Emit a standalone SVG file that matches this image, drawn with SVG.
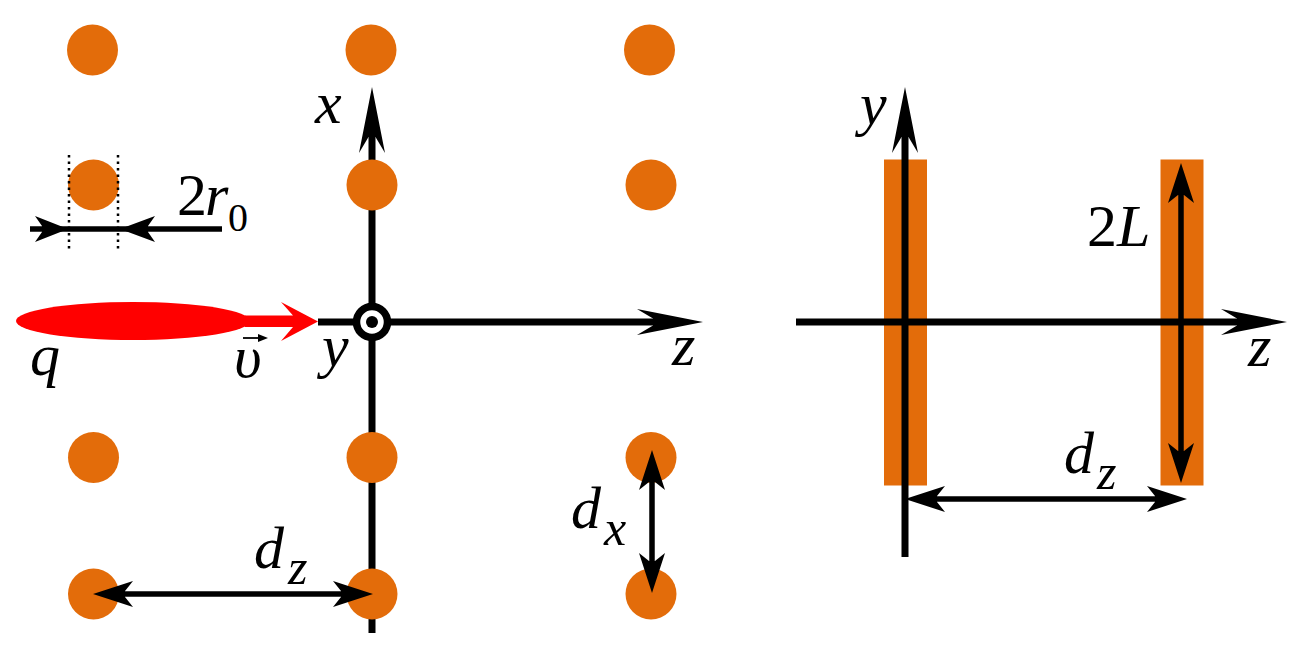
<svg xmlns="http://www.w3.org/2000/svg" width="1309" height="669" viewBox="0 0 1309 669">
<style>
.dot{fill:#E36C0A}
.bar{fill:#E36C0A}
.ax{stroke:#000;stroke-width:7;fill:none}
.dim{stroke:#000;stroke-width:5.500;fill:none}
.guide{stroke:#000;stroke-width:2.500;stroke-dasharray:2.500 4;fill:none}
text{font-family:"Liberation Serif","Times New Roman",serif;font-style:italic;font-size:60px;fill:#000}
.n{font-style:normal}
.sub{font-size:50px}
.sub0{font-size:40px;font-style:normal}
</style>
<defs>
<marker id="long" markerUnits="userSpaceOnUse" markerWidth="70" markerHeight="30" viewBox="0 -15 70 30" refX="30" refY="0" orient="auto-start-reverse"><path d="M0-13L66 0L0 13L16 3.500V-3.500Z"/></marker>
<marker id="mid" markerUnits="userSpaceOnUse" markerWidth="44" markerHeight="30" viewBox="0 -15 44 30" refX="20" refY="0" orient="auto-start-reverse"><path d="M0-13L40 0L0 13L8 3V-3Z"/></marker>
</defs>
<g id="dots">
<g id="dot-1-1"><circle class="dot" cx="92.500" cy="50" r="25.500"/></g>
<g id="dot-1-2"><circle class="dot" cx="371" cy="50" r="25.500"/></g>
<g id="dot-1-3"><circle class="dot" cx="649.500" cy="50" r="25.500"/></g>
<g id="dot-2-1"><circle class="dot" cx="93.500" cy="185" r="25.500"/></g>
<g id="dot-2-3"><circle class="dot" cx="651" cy="185" r="25.500"/></g>
<g id="dot-3-1"><circle class="dot" cx="93.500" cy="457.500" r="25.500"/></g>
<g id="dot-3-3"><circle class="dot" cx="651" cy="457.500" r="25.500"/></g>
<g id="dot-4-1"><circle class="dot" cx="93.500" cy="594" r="25.500"/></g>
<g id="dot-4-3"><circle class="dot" cx="651" cy="594" r="25.500"/></g>
</g>
<g id="bars">
<g id="bar-left"><rect class="bar" x="884" y="159.500" width="43" height="326"/></g>
<g id="bar-right"><rect class="bar" x="1160.500" y="159.500" width="43" height="326"/></g>
</g>
<g id="connectors">
<path class="ax" d="M372 633V123" marker-end="url(#long)"/>
<path class="ax" d="M318 322H667" marker-end="url(#long)"/>
<path class="ax" d="M796 322H1251" marker-end="url(#long)"/>
<path class="ax" d="M905 557V123" marker-end="url(#long)"/>
<path class="dim" d="M30 229H222"/>
<path d="M35 216L68 229L35 242L42 232V226Z"/>
<path d="M155 216L120 229L155 242L148 232V226Z"/>
<path class="guide" d="M69 155V252"/>
<path class="guide" d="M118 155V252"/>
<path class="dim" d="M652 470V573" marker-start="url(#mid)" marker-end="url(#mid)"/>
<path class="dim" d="M925 499H1167" marker-start="url(#mid)" marker-end="url(#mid)"/>
<path class="dim" d="M1181 183V463" marker-start="url(#mid)" marker-end="url(#mid)"/>
</g>
<g id="dot-2-2"><circle class="dot" cx="372" cy="185" r="25.500"/></g>
<g id="dot-3-2"><circle class="dot" cx="372" cy="457.500" r="25.500"/></g>
<g id="dot-4-2"><circle class="dot" cx="372" cy="594" r="25.500"/></g>
<g id="connectors-top">
<path class="dim" d="M113 594H353" marker-start="url(#mid)" marker-end="url(#mid)"/>
</g>
<g id="charge">
<ellipse cx="133" cy="321" rx="117" ry="19" fill="#f00"/>
<path d="M245 315.500H293L281 302L318 321.500L281 341L293 327H245Z" fill="#f00"/>
</g>
<g id="y-axis-out">
<circle cx="372" cy="322" r="15.500" fill="#fff" stroke="#000" stroke-width="7.500"/>
<circle cx="372" cy="322" r="6" fill="#000"/>
</g>
<g id="labels">
<text x="315" y="123">x</text>
<text x="860" y="124">y</text>
<text x="177" y="215" class="n">2</text><text x="205" y="215">r</text><text x="228" y="231" class="sub0">0</text>
<text x="30" y="375">q</text>
<text x="234" y="377">υ</text>
<path d="M243 338H264" stroke="#000" stroke-width="1.800" fill="none"/><path d="M258 334L268 338L258 342Z"/>
<text x="322" y="366">y</text>
<text x="672" y="365">z</text>
<text x="1248" y="366">z</text>
<text x="571" y="528">d</text><text x="604" y="545" class="sub">x</text>
<text x="254" y="568">d</text><text x="288" y="584" class="sub">z</text>
<text x="1064" y="473">d</text><text x="1097" y="489" class="sub">z</text>
<text x="1087" y="246" class="n">2</text><text x="1117" y="246">L</text>
</g>
</svg>
